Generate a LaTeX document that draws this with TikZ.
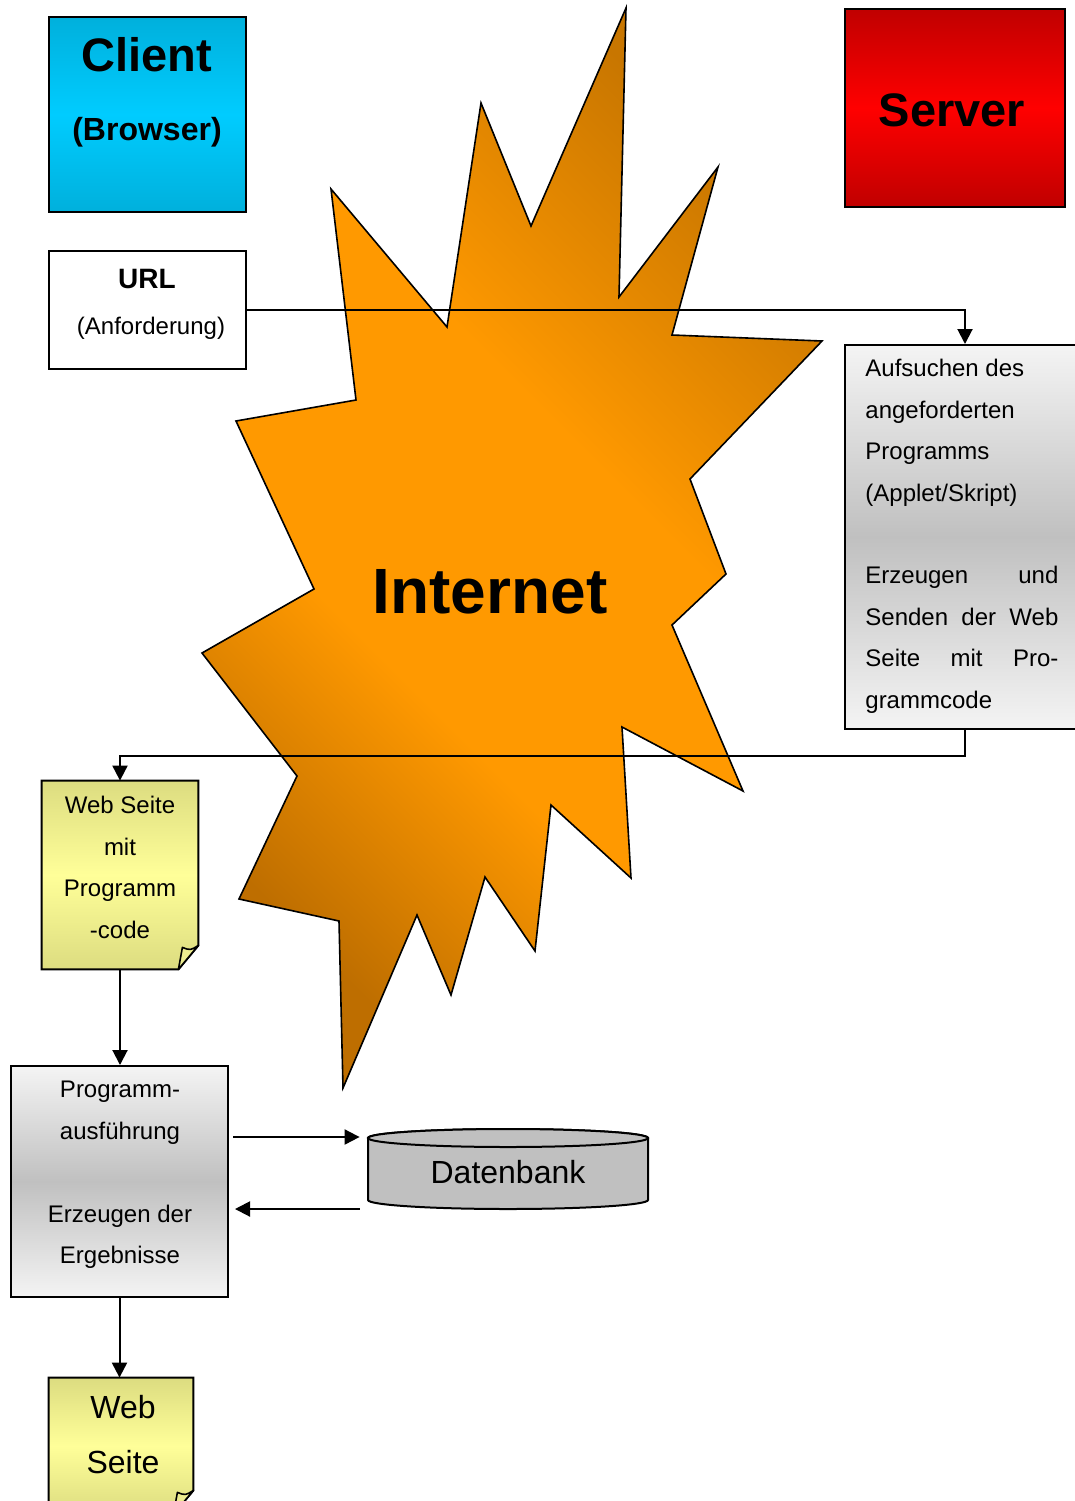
\documentclass[tikz,border=0pt]{standalone}
\usepackage{fontspec}
\setmainfont{Liberation Sans}
\usetikzlibrary{arrows.meta,calc}

\definecolor{cyanedge}{HTML}{00B0DC}
\definecolor{cyanmid}{HTML}{00CCFF}
\definecolor{rededge}{HTML}{C00000}
\definecolor{redmid}{HTML}{FF0000}
\definecolor{greyedge}{HTML}{F4F4F4}
\definecolor{greymid}{HTML}{C0C0C0}
\definecolor{noteedge}{HTML}{DCDC80}
\definecolor{notemid}{HTML}{FFFF99}
\definecolor{notefold}{HTML}{ECEC90}
\definecolor{orangemid}{HTML}{FF9900}
\definecolor{orangelow}{HTML}{BE6E00}
\definecolor{orangehigh}{HTML}{C87600}
\definecolor{dbgrey}{HTML}{C0C0C0}

% diagonal band: dark corners, wide orange plateau in the middle
\pgfdeclareverticalshading{burst}{100bp}{color(0bp)=(orangelow); color(25bp)=(orangelow);
  color(40bp)=(orangemid); color(57bp)=(orangemid); color(75bp)=(orangehigh); color(100bp)=(orangehigh)}

\tikzset{
  frame/.style={draw=black, line width=1pt, inner sep=0pt},
  clientbox/.style={frame, top color=cyanedge, bottom color=cyanedge, middle color=cyanmid},
  serverbox/.style={frame, top color=rededge, bottom color=rededge, middle color=redmid},
  greybox/.style={frame, top color=greyedge, bottom color=greyedge, middle color=greymid},
  plainbox/.style={frame, fill=white},
  notearea/.style={inner sep=0pt},
  notefill/.style={draw=black, line width=1pt, top color=noteedge, bottom color=noteedge, middle color=notemid},
  body/.style={inner sep=0pt, font=\fontsize{12}{20.7}\selectfont},
  big/.style={inner sep=0pt, font=\fontsize{16}{27.5}\selectfont},
  arr/.style={draw=black, line width=1pt, -{Triangle[length=7.5pt,width=7.5pt]}},
}

\begin{document}
\begin{tikzpicture}[x=0.5pt, y=-0.5pt]
  \useasboundingbox (0,0) rectangle (1075,1501);
  \clip (0,0) rectangle (1075,1501);

  % the Internet cloud (a jagged burst)
  \shadedraw[shading=burst, shading angle=-45, line width=0.8pt, line join=miter]
    (626,8) -- (619,297) -- (718,167) -- (672,335) -- (822,341) -- (690,479)
    -- (726,574) -- (672,625) -- (743,791) -- (622,727) -- (631,878) -- (551,805)
    -- (535,951) -- (485,877) -- (451,995) -- (417,915) -- (343,1088) -- (339,921)
    -- (239,899) -- (297,776) -- (202,653) -- (314,589) -- (236,421) -- (356,400)
    -- (331,189) -- (447,327) -- (481,103) -- (531,226) -- cycle;
  \node[inner sep=0pt, font=\fontsize{32}{38}\bfseries] (inet) at (490,592) {Internet};

  % client and server headers
  \node[clientbox, minimum width=98.5pt, minimum height=97.5pt] (client) at (147.5,114.5) {};
  \node[inner sep=0pt, font=\fontsize{23.5}{28}\bfseries] (clientname) at (147,55) {Client};
  \node[inner sep=0pt, font=\fontsize{16}{20}\bfseries] (clientsub) at (147,132) {(Browser)};

  \node[serverbox, minimum width=110pt, minimum height=99pt] (server) at (955,108) {};
  \node[inner sep=0pt, font=\fontsize{23.5}{28}\bfseries] (servername) at (952,110) {Server};

  % request
  \node[plainbox, minimum width=98.5pt, minimum height=59pt] (url) at (147.5,310) {};
  \node[inner sep=0pt, font=\fontsize{14}{17}\bfseries] (urltitle) at (147,279) {URL};
  \node[body] (urlsub) at (151,328) {(Anforderung)};

  % server side processing
  \node[greybox, minimum width=120pt, minimum height=192pt] (srvproc) at (965,537) {};
  \node[body, anchor=north west, align=left] (srvtext) at (865,359)
    {Aufsuchen des\\angeforderten\\Programms\\(Applet/Skript)\\[20.7pt]
     \makebox[96.5pt][s]{Erzeugen und}\\\makebox[96.5pt][s]{Senden der Web}\\
     \makebox[96.5pt][s]{Seite mit Pro-}\\grammcode};

  % web page with program code
  \node[notearea, minimum width=78pt, minimum height=94pt] (page) at (120,875) {};
  \shadedraw[notefill] (page.north west) -- (page.north east)
    -- ([yshift=12pt]page.south east) -- ([xshift=-10pt]page.south east)
    -- (page.south west) -- cycle;
  \filldraw[fill=notefold, line width=0.8pt, line join=round]
    ([yshift=12pt]page.south east) .. controls ([xshift=-4pt,yshift=9.5pt]page.south east)
    .. ([xshift=-8pt,yshift=11pt]page.south east) -- ([xshift=-10pt]page.south east) -- cycle;
  \node[body, anchor=north, align=center] (pagetext) at (120,796)
    {Web Seite\\mit\\Programm\\-code};

  % program execution
  \node[greybox, minimum width=108.5pt, minimum height=115.5pt] (prog) at (119.5,1181.5) {};
  \node[body, anchor=north, align=center] (progtext) at (120,1081)
    {Programm-\\ausführung\\[20.7pt]Erzeugen der\\Ergebnisse};

  % database cylinder
  \node[inner sep=0pt, minimum width=140pt, minimum height=40pt] (db) at (508,1169) {};
  \filldraw[fill=dbgrey, line width=1pt]
    (368,1138) -- (368,1200) arc[start angle=180, end angle=360, x radius=70pt, y radius=4.5pt]
    -- (648,1138) arc[start angle=0, end angle=180, x radius=70pt, y radius=4.5pt] -- cycle;
  \filldraw[fill=dbgrey, line width=1pt] (508,1138) ellipse [x radius=70pt, y radius=4.5pt];
  \node[big] (dbname) at (508,1172) {Datenbank};

  % resulting web page
  \node[notearea, minimum width=72pt, minimum height=68pt] (result) at (121,1446) {};
  \shadedraw[notefill] (result.north west) -- (result.north east)
    -- ([yshift=12pt]result.south east) -- ([xshift=-10pt]result.south east)
    -- (result.south west) -- cycle;
  \filldraw[fill=notefold, line width=0.8pt, line join=round]
    ([yshift=12pt]result.south east) .. controls ([xshift=-4pt,yshift=9.5pt]result.south east)
    .. ([xshift=-8pt,yshift=11pt]result.south east) -- ([xshift=-10pt]result.south east) -- cycle;
  \node[big, anchor=north, align=center] (resulttext) at (123,1395) {Web\\Seite};

  % connectors
  \draw[arr] (url.east) -| (srvproc.north);
  \draw[arr] (srvproc.south) -- ++(0,26) -| (page.north);
  \draw[arr] (page.south) -- (page.south |- prog.north);
  \draw[arr, shorten <=2pt, shorten >=4pt] (prog.east |- 0,1137) -- (db.west |- 0,1137);
  \draw[arr, shorten <=4pt, shorten >=3pt] (db.west |- 0,1209) -- (prog.east |- 0,1209);
  \draw[arr] (prog.south) -- (prog.south |- result.north);
\end{tikzpicture}
\end{document}
